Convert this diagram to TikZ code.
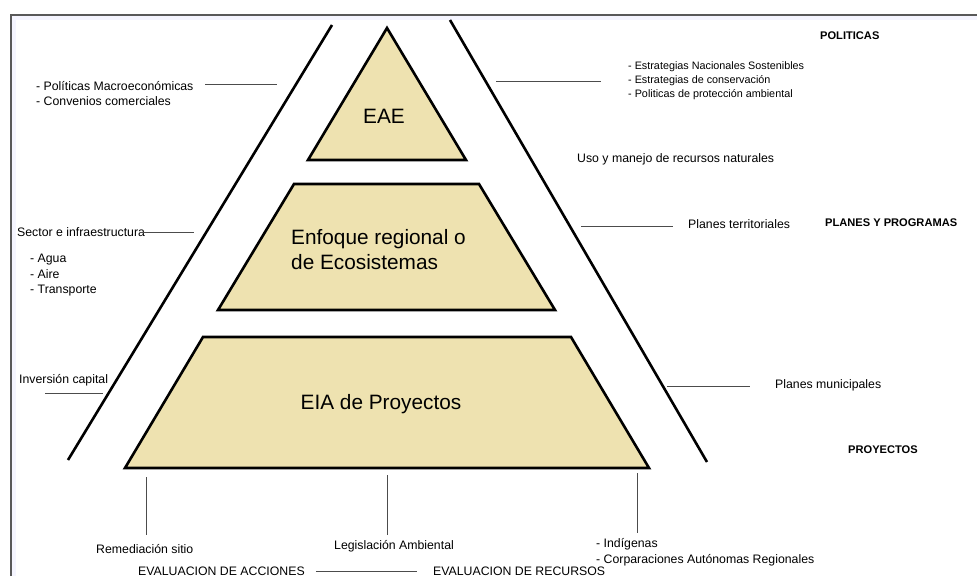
\documentclass[tikz,border=0pt]{standalone}
\usepackage{fontspec}
\setmainfont{Liberation Sans}
\usetikzlibrary{positioning}
\definecolor{arena}{RGB}{238,226,176}

\begin{document}
\begin{tikzpicture}[x=1pt, y=-1pt,
    capa/.style={draw=black, line width=2.6pt, line join=miter, fill=arena},
    borde/.style={draw=black, line width=2.6pt},
    conn/.style={draw=black!70, line width=0.8pt},
    txt/.style={inner sep=0pt, align=left, font=\fontsize{12.3}{15.5}\selectfont},
    txtsm/.style={inner sep=0pt, align=left, font=\fontsize{10.8}{14}\selectfont},
    nivel/.style={inner sep=0pt, font=\bfseries\fontsize{11.1}{13}\selectfont},
    grande/.style={inner sep=0pt, align=left, font=\fontsize{20.8}{25}\selectfont}]
    \useasboundingbox (0,0) rectangle (977,576);
    % Frame
    \fill[blue!4] (11,15) rectangle (977,20);
    \fill[blue!4] (11,15) rectangle (16,576);
    \draw[black!65, line width=1.5pt] (11,576) -- (11,15) -- (977,15);
    % Outer lines
    \draw[borde] (68,460) -- (332,25);
    \draw[borde] (450,20) -- (707,462);
    % Pyramid
    \draw[capa] (387,28) -- (466,160) -- (308,160) -- cycle;
    \draw[capa] (294,184) -- (479,184) -- (555,310) -- (218,310) -- cycle;
    \draw[capa] (203,337) -- (571,337) -- (649,468) -- (125,468) -- cycle;
    \node[grande] (eae) at (384,116) {EAE};
    \node[grande, anchor=west] (eco) at (291,250) {Enfoque regional o\\de Ecosistemas};
    \node[grande] (eia) at (381,404) {EIA de Proyectos};

    % Levels
    \node[nivel, anchor=west] (politicas) at (820,36) {POLITICAS};
    \node[nivel, anchor=west] (planes) at (825,223) {PLANES Y PROGRAMAS};
    \node[nivel, anchor=west] (proyectos) at (848,450) {PROYECTOS};

    % Left labels
    \node[txt, anchor=west, text depth=0pt] (macro) at (36,93.5) {- Políticas Macroeconómicas\\- Convenios comerciales};
    \node[txt, anchor=west] (sector) at (17,232) {Sector e infraestructura};
    \node[txt, anchor=west] (medios) at (30,275.5) {- Agua\\- Aire\\- Transporte};
    \node[txt, anchor=west] (inversion) at (19,380) {Inversión capital};

    % Right labels
    \node[txtsm, anchor=west] (estrategias) at (628,81) {- Estrategias Nacionales Sostenibles\\- Estrategias de conservación\\- Politicas de protección ambiental};
    \node[txt, anchor=west] (uso) at (577,159) {Uso y manejo de recursos naturales};
    \node[txt, anchor=west] (territoriales) at (688,224) {Planes territoriales};
    \node[txt, anchor=west] (municipales) at (775,385) {Planes municipales};

    % Bottom labels
    \node[txt, anchor=west] (remediacion) at (96,549) {Remediación sitio};
    \node[txt, anchor=west] (legislacion) at (334,546) {Legislación Ambiental};
    \node[txt, anchor=west, text depth=0pt] (indigenas) at (596,551) {- Indígenas\\- Corparaciones Autónomas Regionales};
    \node[txt, anchor=west] (acciones) at (138,571) {EVALUACION DE ACCIONES};
    \node[txt, anchor=west] (evrecursos) at (433,571) {EVALUACION DE RECURSOS};

    % Line ends
    \coordinate (macroA) at (205,84);      \coordinate (macroB) at (277,84);
    \coordinate (estrA) at (496,81);       \coordinate (estrB) at (601,81);
    \coordinate (sectorA) at (140,232);    \coordinate (sectorB) at (194,232);
    \coordinate (invA) at (45,393);        \coordinate (invB) at (103,393);
    \coordinate (terrA) at (581,226);      \coordinate (terrB) at (673,226);
    \coordinate (munA) at (667,386);       \coordinate (munB) at (750,386);
    \coordinate (remA) at (146,477);       \coordinate (remB) at (146,535);
    \coordinate (legA) at (387,475);       \coordinate (legB) at (387,535);
    \coordinate (indA) at (637,473);       \coordinate (indB) at (637,533);

    % Lines
    \draw[conn] (macroA) -- (macroB);
    \draw[conn] (estrA) -- (estrB);
    \draw[conn] (sectorA) -- (sectorB);
    \draw[conn] (invA) -- (invB);
    \draw[conn] (terrA) -- (terrB);
    \draw[conn] (munA) -- (munB);
    \draw[conn] (remA) -- (remB);
    \draw[conn] (legA) -- (legB);
    \draw[conn] (indA) -- (indB);
    \draw[conn] ([xshift=11pt]acciones.east) -- ([xshift=-16pt]evrecursos.west);
\end{tikzpicture}
\end{document}
